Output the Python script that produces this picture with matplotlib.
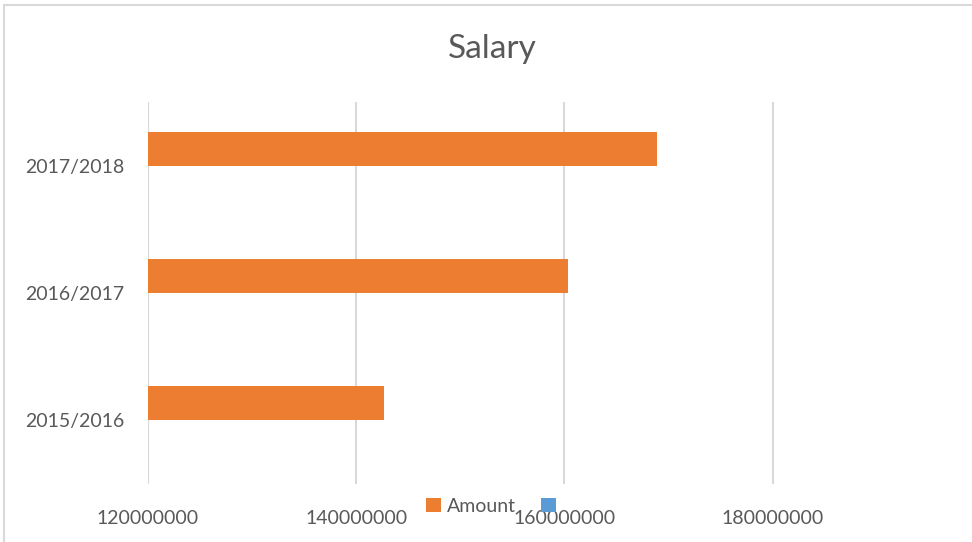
import numpy as np
import matplotlib
matplotlib.use("Agg")
import matplotlib.pyplot as plt
from matplotlib.patches import Patch, Rectangle

# data
years = ["2015/2016", "2016/2017", "2017/2018"]
amount = [142700000, 160300000, 168900000]
x_ticks = [120000000, 140000000, 160000000, 180000000]
x_tick_labels = ["120000000", "140000000", "160000000", "180000000"]

plt.rcParams['font.family'] = ['Lato', 'DejaVu Sans']
text_col = '#595959'
grid_col = '#d9d9d9'
orange = '#ED7D31'
blue = '#5B9BD5'

W, H = 972, 542
fig = plt.figure(figsize=(W / 100, H / 100), dpi=100)
fig.patch.set_facecolor('white')

# plot area in pixels (right edge falls outside the picture, as in the original)
left, right, top, bottom = 148, 981, 102, 484
ax = fig.add_axes([left / W, 1 - bottom / H, (right - left) / W, (bottom - top) / H])

y = np.arange(len(years))
bar_h = 0.267
ax.barh(y + bar_h / 2, amount, height=bar_h, color=orange, zorder=3)

ax.set_xlim(120000000, 200000000)
ax.set_ylim(-0.5, len(years) - 0.5)
ax.set_xticks(x_ticks)
ax.set_xticklabels(x_tick_labels)
ax.set_yticks(y)
ax.set_yticklabels(years)
ax.tick_params(length=0, labelsize=14, colors=text_col)
ax.tick_params(axis='x', pad=19)
ax.tick_params(axis='y', pad=17)
ax.grid(axis='x', color=grid_col, linewidth=1.5, zorder=0)
for s in ax.spines.values():
    s.set_visible(False)

fig.text(492 / W, 1 - 49 / H, "Salary", ha='center', va='center',
         fontsize=24, color=text_col)

handles = [Patch(facecolor=orange, edgecolor='none'), Patch(facecolor=blue, edgecolor='none')]
fig.legend(handles, ["Amount", ""], loc='center', bbox_to_anchor=(494 / W, 1 - 506 / H),
           ncol=2, frameon=False, fontsize=14, labelcolor=text_col,
           handlelength=0.75, handleheight=0.75, handletextpad=0.3, columnspacing=1.3)

# chart border (only top and left edges fall inside the picture)
fig.patches.append(Rectangle((4 / W, -0.2), 1.2, 1.2 - 5 / H, transform=fig.transFigure,
                             fill=False, edgecolor=grid_col, linewidth=1.5))

fig.savefig("out.png", dpi=100)
